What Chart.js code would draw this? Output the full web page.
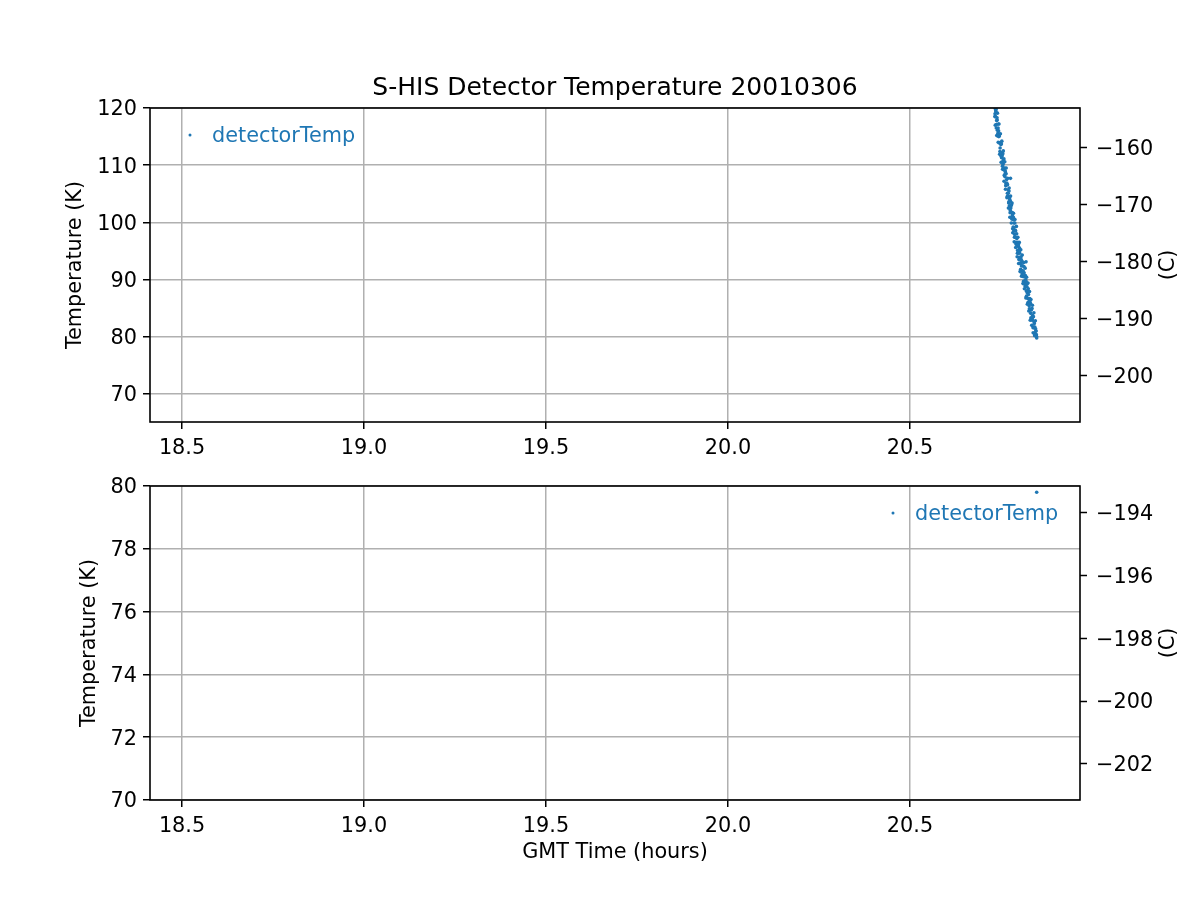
<!DOCTYPE html>
<html>
<head>
<meta charset="utf-8">
<script src="https://cdn.jsdelivr.net/npm/chart.js@4/dist/chart.umd.min.js"></script>
<style>
  body { margin: 0; background: #ffffff; }
  #wrap { position: relative; width: 1200px; height: 900px; }
  canvas { position: absolute; left: 0; }
  #top { top: 0; }
  #bottom { top: 460px; }
</style>
</head>
<body>
<div id="wrap">
  <canvas id="top" width="1200" height="470"></canvas>
  <canvas id="bottom" width="1200" height="440"></canvas>
</div>
<script>
// detector temperature samples (GMT hours, Kelvin)
var hours = [
  20.733, 20.7335, 20.734, 20.735, 20.7355, 20.736, 20.737, 20.7375, 20.738, 20.739,
  20.7395, 20.740, 20.741, 20.7415, 20.742, 20.743, 20.7435, 20.744, 20.745, 20.7455,
  20.746, 20.747, 20.7475, 20.748, 20.749, 20.7495, 20.750, 20.751, 20.7515, 20.752,
  20.753, 20.7535, 20.754, 20.755, 20.7555, 20.756, 20.757, 20.7575, 20.758, 20.759,
  20.7595, 20.760, 20.761, 20.7615, 20.762, 20.763, 20.7635, 20.764, 20.765, 20.7655,
  20.766, 20.767, 20.7675, 20.768, 20.769, 20.7695, 20.770, 20.771, 20.7715, 20.772,
  20.773, 20.7735, 20.774, 20.775, 20.7755, 20.776, 20.776, 20.777, 20.7775, 20.778,
  20.779, 20.7795, 20.780, 20.781, 20.7815, 20.782, 20.783, 20.7835, 20.784, 20.785,
  20.7855, 20.786, 20.787, 20.7875, 20.788, 20.789, 20.7895, 20.790, 20.791, 20.7915,
  20.792, 20.793, 20.7935, 20.794, 20.795, 20.7955, 20.796, 20.797, 20.7975, 20.798,
  20.799, 20.7995, 20.800, 20.801, 20.8015, 20.802, 20.803, 20.8035, 20.804, 20.805,
  20.8055, 20.806, 20.807, 20.8075, 20.808, 20.809, 20.8095, 20.810, 20.811, 20.8115,
  20.812, 20.813, 20.8135, 20.814, 20.815, 20.8155, 20.816, 20.817, 20.8175, 20.818,
  20.8187, 20.819, 20.8195, 20.820, 20.821, 20.8215, 20.822, 20.823, 20.8235, 20.824,
  20.825, 20.8255, 20.826, 20.827, 20.8275, 20.828, 20.829, 20.8295, 20.830, 20.831,
  20.8315, 20.832, 20.833, 20.8335, 20.834, 20.835, 20.8355, 20.836, 20.837, 20.8375,
  20.838, 20.839, 20.8395, 20.840, 20.841, 20.8415, 20.842, 20.843, 20.8435, 20.844,
  20.845, 20.8455, 20.846, 20.847, 20.8475, 20.848,
  20.7343, 20.7363, 20.7383, 20.7403, 20.7423, 20.7443, 20.7463, 20.7483, 20.7503, 20.7523,
  20.7543, 20.7563, 20.7583, 20.7603, 20.7623, 20.7643, 20.7663, 20.7683, 20.7703, 20.7723,
  20.7743, 20.7763, 20.7783, 20.7803, 20.7823, 20.7843, 20.7863, 20.7883, 20.7903, 20.7923,
  20.7943, 20.7963, 20.7983, 20.8003, 20.8023, 20.8043, 20.8063, 20.8083, 20.8103, 20.8123,
  20.8143, 20.8163, 20.8183, 20.8203, 20.8223, 20.8243, 20.8263, 20.8283, 20.8303, 20.8323,
  20.8343, 20.8363, 20.8383, 20.8403, 20.8423, 20.8443, 20.8463
];
var tempK = [
  118.5, 119.0, 119.9, 118.5, 119.5, 119.3, 116.5, 117.1, 117.8, 118.3,
  117.9, 116.1, 115.1, 115.6, 116.5, 117.2, 116.0, 115.0, 113.9, 115.1,
  115.4, 112.4, 113.0, 113.9, 114.0, 113.6, 111.6, 113.7, 111.3, 111.5,
  111.7, 112.2, 109.8, 112.0, 110.1, 110.8, 109.2, 110.5, 111.1, 108.2,
  108.3, 109.5, 108.0, 109.0, 108.8, 106.4, 106.8, 108.5, 106.6, 107.5,
  106.9, 104.5, 105.1, 106.6, 104.6, 105.7, 105.1, 103.4, 103.6, 105.5,
  102.9, 104.3, 104.0, 101.7, 102.1, 103.7, 107.7, 102.5, 102.9, 100.9,
  103.1, 100.6, 100.8, 101.7, 101.3, 98.9, 100.5, 99.2, 100.9, 98.5,
  99.9, 99.1, 97.4, 97.9, 99.9, 97.4, 98.6, 98.5, 96.2, 96.5,
  97.3, 98.0, 97.2, 96.1, 94.6, 95.1, 96.5, 94.6, 95.8, 96.1,
  93.5, 93.9, 94.9, 95.5, 94.6, 92.9, 93.8, 92.8, 91.8, 94.0,
  93.5, 92.4, 93.1, 91.6, 91.0, 93.1, 92.4, 91.1, 91.5, 90.5,
  89.7, 92.3, 91.2, 89.6, 90.6, 89.3, 88.9, 90.7, 90.0, 88.8,
  93.1, 89.7, 88.0, 87.1, 89.2, 88.7, 87.7, 88.1, 86.7, 86.0,
  88.4, 87.4, 85.9, 86.5, 85.4, 84.9, 86.7, 86.1, 84.7, 85.8,
  84.1, 83.3, 84.7, 84.8, 83.2, 85.0, 82.9, 83.1, 83.7, 83.5,
  81.6, 83.5, 81.7, 81.6, 82.6, 82.3, 80.5, 81.7, 80.5, 80.5,
  81.4, 81.0, 80.2, 80.4, 80.1, 79.8,
  117.0, 119.8, 115.2, 119.1, 114.0, 117.2, 111.9, 115.5, 110.5, 114.2,
  109.3, 112.5, 107.2, 110.6, 105.8, 109.5, 104.3, 107.7, 102.5, 106.0,
  100.9, 104.6, 99.9, 103.4, 98.2, 101.6, 96.6, 100.5, 95.6, 99.3,
  94.0, 97.4, 92.8, 96.5, 91.4, 95.2, 90.6, 94.3, 89.3, 93.0,
  88.4, 92.0, 86.8, 90.4, 85.7, 89.4, 84.5, 87.9, 82.9, 86.5,
  82.0, 85.5, 80.7, 84.2, 80.2, 82.8, 81.0
];

var xTicks = [18.5, 19.0, 19.5, 20.0, 20.5];
var topKTicks = [70, 80, 90, 100, 110, 120];
var topCTicks = [-200, -190, -180, -170, -160];
var botKTicks = [70, 72, 74, 76, 78, 80];
var botCTicks = [-202, -200, -198, -196, -194];

var blue = '#1f77b4';
var gridColor = '#b0b0b0';
var font = 'DejaVu Sans';
var xMin = 18.412, xMax = 20.967;

var points = [];
for (var i = 0; i < hours.length; i++) {
  points.push({ x: hours[i], y: tempK[i] });
}

function setTicks(list) {
  return function(scale) {
    scale.ticks = list.map(function(v) { return { value: v }; });
  };
}

function fixedSize(prop, size) {
  return function(scale) { scale[prop] = size; };
}

function makePlugin(opt) {
  return {
    id: 'decor' + opt.name,
    afterDraw: function(chart) {
      var ctx = chart.ctx;
      var a = chart.chartArea;
      ctx.save();
      ctx.strokeStyle = '#000000';
      ctx.lineWidth = 1.6;
      ctx.strokeRect(a.left, a.top, a.right - a.left, a.bottom - a.top);

      // legend
      ctx.fillStyle = blue;
      ctx.beginPath();
      ctx.arc(opt.legend[0], opt.legend[1], 1.5, 0, Math.PI * 2);
      ctx.fill();
      ctx.font = '20.8px "' + font + '"';
      ctx.textAlign = 'left';
      ctx.textBaseline = 'middle';
      ctx.fillText('detectorTemp', opt.legend[0] + 22, opt.legend[1] + 2);

      ctx.fillStyle = '#000000';
      ctx.textAlign = 'center';
      // y labels
      ctx.save();
      ctx.translate(opt.yLabelX, opt.labelY);
      ctx.rotate(-Math.PI / 2);
      ctx.fillText('Temperature (K)', 0, 0);
      ctx.restore();
      ctx.save();
      ctx.translate(1169, opt.labelY);
      ctx.rotate(-Math.PI / 2);
      ctx.fillText('(C)', 0, 0);
      ctx.restore();

      if (opt.title) {
        ctx.font = '25px "' + font + '"';
        ctx.fillText(opt.title, (a.left + a.right) / 2, 88);
      }
      if (opt.xLabel) {
        ctx.fillText(opt.xLabel, (a.left + a.right) / 2, opt.xLabelY);
      }
      ctx.restore();
    }
  };
}

function makeChart(id, o) {
  var tickFont = { family: font, size: 20.8 };
  new Chart(document.getElementById(id), {
    type: 'scatter',
    data: {
      datasets: [{
        label: 'detectorTemp',
        data: points,
        showLine: false,
        pointRadius: 1.8,
        pointHoverRadius: 1.8,
        pointBorderWidth: 0,
        backgroundColor: blue,
        borderColor: blue,
        xAxisID: 'x',
        yAxisID: 'y'
      }]
    },
    options: {
      responsive: false,
      animation: false,
      events: [],
      layout: { padding: { top: o.padTop, left: 0, right: 0, bottom: 0 } },
      plugins: { legend: { display: false }, title: { display: false }, tooltip: { enabled: false } },
      scales: {
        x: {
          type: 'linear', position: 'bottom', min: xMin, max: xMax,
          afterBuildTicks: setTicks(xTicks),
          afterFit: fixedSize('height', o.xHeight),
          border: { display: false },
          grid: { color: gridColor, lineWidth: 1.5, tickColor: '#000000', tickWidth: 1.5, tickLength: 7 },
          ticks: { font: tickFont, color: '#000000', padding: 7, maxRotation: 0,
                   callback: function(v) { return v.toFixed(1); } }
        },
        y: {
          type: 'linear', position: 'left', min: o.kMin, max: o.kMax,
          afterBuildTicks: setTicks(o.kTicks),
          afterFit: fixedSize('width', 150),
          border: { display: false },
          grid: { color: gridColor, lineWidth: 1.5, tickColor: '#000000', tickWidth: 1.5, tickLength: 7 },
          ticks: { font: tickFont, color: '#000000', padding: 6, labelOffset: 2,
                   callback: function(v) { return String(v); } }
        },
        y2: {
          type: 'linear', position: 'right', min: o.kMin - 273.15, max: o.kMax - 273.15,
          afterBuildTicks: setTicks(o.cTicks),
          afterFit: fixedSize('width', 120),
          border: { display: false },
          grid: { drawOnChartArea: false, tickColor: '#000000', tickWidth: 1.5, tickLength: 7 },
          ticks: { font: tickFont, color: '#000000', padding: 9, labelOffset: 2,
                   callback: function(v) { return String(v).replace('-', '\u2212'); } }
        }
      }
    },
    plugins: [makePlugin(o)]
  });
}

makeChart('top', {
  name: 'Top', padTop: 108, xHeight: 48,
  kMin: 65.1, kMax: 120, kTicks: topKTicks, cTicks: topCTicks,
  legend: [190, 135], yLabelX: 76, labelY: 265,
  title: 'S-HIS Detector Temperature 20010306'
});

makeChart('bottom', {
  name: 'Bottom', padTop: 26, xHeight: 100,
  kMin: 70, kMax: 80, kTicks: botKTicks, cTicks: botCTicks,
  legend: [893, 53], yLabelX: 90, labelY: 183,
  xLabel: 'GMT Time (hours)', xLabelY: 393
});
</script>
</body>
</html>
